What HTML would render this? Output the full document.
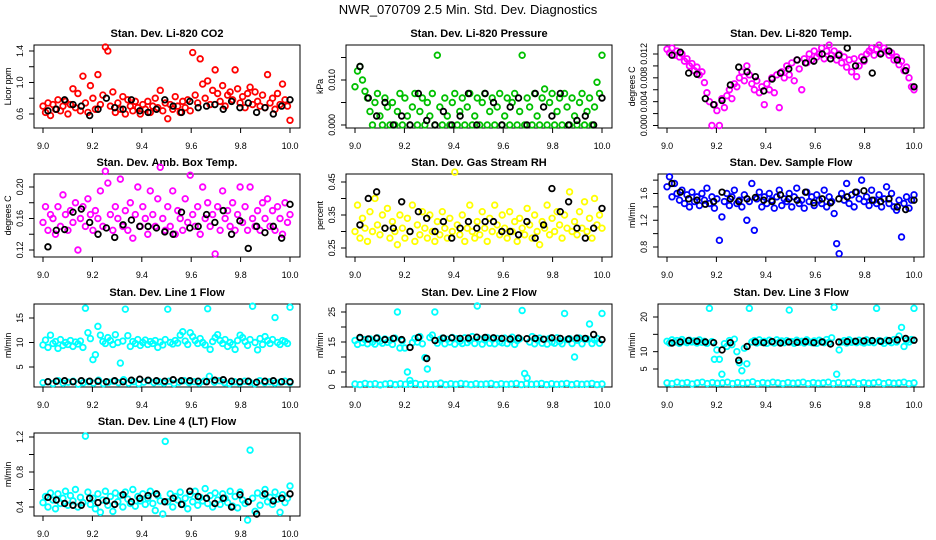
<!DOCTYPE html>
<html><head><meta charset="utf-8"><style>
body{margin:0;background:#fff}
svg{display:block;font-family:"Liberation Sans",Arial,sans-serif}
.t{font-weight:bold;font-size:11px}
.k{font-size:9px;letter-spacing:-0.2px}
</style></head><body>
<svg id="c" width="936" height="540" viewBox="0 0 936 540">
<rect width="936" height="540" fill="#fff"/>
<text x="468" y="14" text-anchor="middle" font-size="13">NWR_070709  2.5 Min. Std. Dev. Diagnostics</text>
</svg>
<script>
const xTicks=[9.0,9.2,9.4,9.6,9.8,10.0];
const xTickLabels=["9.0","9.2","9.4","9.6","9.8","10.0"];
const co2Red=[0.70,0.62,0.74,0.58,0.72,0.66,0.78,0.64,0.70,0.76,0.60,0.72,0.92,0.68,0.86,0.64,1.08,0.74,0.62,0.96,0.80,0.66,1.10,0.72,0.84,1.45,1.40,0.70,0.88,0.62,0.74,0.66,0.82,0.60,0.78,0.70,0.64,0.76,0.68,0.60,0.72,0.66,0.76,0.62,0.70,0.80,0.68,0.90,0.64,0.74,0.54,0.72,0.66,0.82,0.70,0.62,0.76,0.68,0.78,0.64,1.38,0.84,0.74,1.30,0.98,0.80,1.02,0.72,0.90,1.16,0.86,0.76,0.96,0.70,0.84,0.88,0.78,1.16,0.92,0.74,0.82,0.68,0.86,0.94,0.72,0.88,0.76,0.70,0.84,0.68,1.10,0.74,0.80,0.66,0.86,0.72,0.98,0.78,0.70,0.52];
const co2Black=[0.64,0.66,0.78,0.72,0.70,0.58,0.66,0.80,0.68,0.66,0.78,0.64,0.62,0.66,0.78,0.70,0.62,0.76,0.68,0.70,0.72,0.66,0.76,0.68,0.74,0.62,0.68,0.60,0.70,0.78];
const presGreen=[0.0085,0.012,0.013,0.010,0.0075,0.006,0.003,0.000,0.005,0.007,0.002,0.000,0.006,0.004,0.000,0.005,0.000,0.003,0.007,0.000,0.006,0.002,0.000,0.004,0.007,0.000,0.003,0.006,0.000,0.005,0.002,0.007,0.000,0.0155,0.004,0.000,0.006,0.002,0.000,0.005,0.007,0.000,0.003,0.006,0.000,0.004,0.007,0.000,0.002,0.006,0.000,0.005,0.007,0.000,0.003,0.006,0.000,0.004,0.007,0.000,0.002,0.006,0.000,0.005,0.007,0.000,0.003,0.0155,0.000,0.006,0.004,0.000,0.007,0.002,0.000,0.006,0.008,0.000,0.005,0.007,0.000,0.003,0.006,0.000,0.007,0.004,0.000,0.006,0.002,0.000,0.005,0.007,0.000,0.003,0.006,0.000,0.004,0.0095,0.007,0.0155];
const presBlack=[0.013,0.006,0.002,0.005,0.000,0.002,0.000,0.007,0.001,0.000,0.003,0.000,0.002,0.007,0.000,0.007,0.005,0.000,0.004,0.006,0.000,0.007,0.004,0.002,0.007,0.000,0.001,0.002,0.000,0.006];
const tempMag=[0.0128,0.0122,0.0130,0.0118,0.0125,0.0115,0.0120,0.0108,0.0112,0.0100,0.0104,0.0092,0.0098,0.0085,0.0090,0.0072,0.0055,0.0040,0.0000,0.0035,0.0025,0.0000,0.0045,0.0030,0.0050,0.0060,0.0045,0.0070,0.0065,0.0080,0.0090,0.0075,0.0100,0.0085,0.0070,0.0060,0.0075,0.0055,0.0065,0.0035,0.0070,0.0060,0.0080,0.0055,0.0085,0.0030,0.0090,0.0080,0.0100,0.0085,0.0105,0.0075,0.0110,0.0095,0.0060,0.0112,0.0105,0.0120,0.0110,0.0125,0.0115,0.0120,0.0130,0.0112,0.0125,0.0135,0.0118,0.0125,0.0110,0.0120,0.0105,0.0115,0.0098,0.0110,0.0090,0.0112,0.0082,0.0100,0.0115,0.0108,0.0120,0.0125,0.0130,0.0118,0.0128,0.0135,0.0122,0.0130,0.0125,0.0118,0.0122,0.0110,0.0115,0.0102,0.0108,0.0092,0.0098,0.0080,0.0065,0.0060];
const tempBlack=[0.0118,0.0123,0.0088,0.0086,0.0045,0.0035,0.0042,0.0068,0.0098,0.0090,0.0082,0.0058,0.0078,0.0088,0.0095,0.0110,0.0105,0.0108,0.0120,0.0112,0.0118,0.0130,0.0100,0.0110,0.0088,0.0120,0.0125,0.0110,0.0092,0.0065];
const ambMag=[0.155,0.175,0.145,0.165,0.160,0.140,0.175,0.150,0.190,0.165,0.145,0.170,0.155,0.180,0.120,0.160,0.175,0.150,0.185,0.165,0.145,0.170,0.160,0.195,0.150,0.220,0.205,0.165,0.145,0.175,0.160,0.210,0.150,0.170,0.145,0.180,0.135,0.165,0.200,0.150,0.175,0.160,0.140,0.195,0.165,0.150,0.185,0.225,0.160,0.145,0.175,0.150,0.195,0.140,0.170,0.160,0.145,0.185,0.155,0.215,0.165,0.150,0.175,0.140,0.200,0.160,0.180,0.150,0.165,0.115,0.175,0.145,0.195,0.160,0.170,0.150,0.180,0.145,0.165,0.200,0.155,0.175,0.145,0.200,0.160,0.150,0.170,0.145,0.180,0.160,0.185,0.150,0.170,0.145,0.175,0.160,0.140,0.180,0.155,0.165];
const ambBlack=[0.124,0.145,0.146,0.168,0.172,0.155,0.140,0.148,0.136,0.152,0.158,0.150,0.150,0.148,0.143,0.140,0.168,0.148,0.150,0.165,0.155,0.170,0.140,0.157,0.122,0.150,0.142,0.150,0.135,0.178];
const rhYellow=[0.30,0.38,0.28,0.34,0.31,0.27,0.36,0.30,0.40,0.32,0.29,0.35,0.31,0.37,0.28,0.33,0.30,0.26,0.35,0.31,0.28,0.34,0.30,0.38,0.27,0.32,0.29,0.36,0.31,0.28,0.35,0.30,0.27,0.33,0.29,0.36,0.31,0.28,0.34,0.30,0.48,0.32,0.29,0.35,0.27,0.31,0.38,0.30,0.28,0.33,0.29,0.36,0.31,0.27,0.34,0.30,0.38,0.32,0.29,0.35,0.31,0.28,0.36,0.30,0.33,0.27,0.34,0.31,0.29,0.37,0.32,0.28,0.35,0.30,0.26,0.33,0.31,0.38,0.29,0.34,0.30,0.36,0.32,0.28,0.35,0.31,0.42,0.30,0.33,0.29,0.36,0.31,0.39,0.30,0.34,0.28,0.40,0.32,0.35,0.31];
const rhBlack=[0.32,0.40,0.42,0.31,0.31,0.39,0.30,0.36,0.34,0.30,0.33,0.28,0.31,0.33,0.31,0.33,0.33,0.30,0.30,0.29,0.33,0.28,0.32,0.43,0.36,0.39,0.31,0.28,0.31,0.37];
const flowBlue=[1.70,1.85,1.55,1.75,1.60,1.50,1.65,1.45,1.58,1.40,1.62,1.48,1.55,1.42,1.60,1.50,1.68,1.45,1.55,1.38,1.52,0.90,1.25,1.48,1.60,1.42,1.55,1.65,1.45,1.50,1.40,1.58,1.20,1.48,1.75,1.05,1.52,1.62,1.40,1.55,1.45,1.60,1.50,1.38,1.55,1.65,1.42,1.52,1.48,1.60,1.40,1.55,1.68,1.45,1.50,1.38,1.62,1.48,1.55,1.42,1.58,1.50,1.45,1.65,1.40,1.55,1.48,1.30,0.85,0.70,1.60,1.50,1.75,1.45,1.58,1.40,1.62,1.52,1.80,1.48,1.55,1.42,1.65,1.50,1.45,1.58,1.40,1.52,1.70,1.45,1.60,1.40,1.35,1.50,0.95,1.45,1.55,1.38,1.50,1.58];
const flowBlack=[1.75,1.62,1.52,1.50,1.44,1.48,1.62,1.52,1.48,1.52,1.54,1.50,1.48,1.58,1.52,1.50,1.62,1.46,1.52,1.46,1.52,1.55,1.62,1.64,1.50,1.48,1.52,1.40,1.36,1.50];
const l1Upper=[9.5,10.5,9.0,11.5,9.8,10.2,8.8,10.6,9.4,10.0,9.6,10.4,9.2,10.1,9.7,10.3,9.0,17.0,12.0,10.8,6.5,7.5,13.3,11.5,10.2,9.8,11.0,10.4,9.6,11.6,10.0,5.8,10.3,16.8,11.4,9.2,10.2,9.8,10.6,9.4,10.0,10.5,9.6,10.2,9.8,10.4,9.0,10.1,9.5,10.6,16.8,10.0,9.7,10.4,9.9,11.5,12.2,10.3,9.6,12.0,11.2,10.4,9.8,10.8,10.0,9.5,16.9,8.6,10.2,11.0,11.6,10.4,9.8,10.6,9.2,10.0,9.6,8.6,10.4,11.5,11.0,10.2,9.4,10.6,17.4,10.0,8.5,10.8,9.6,11.2,10.4,9.8,10.6,15.1,10.0,9.6,10.4,10.2,9.8,17.2];
const l1Lower=[1.8,2.0,1.6,2.2,1.7,1.9,2.1,1.5,1.8,2.0,1.7,2.3,1.6,1.9,2.1,1.8,2.4,1.7,2.0,1.6,1.9,2.2,1.8,2.0,1.7,2.1,1.6,1.9,2.2,1.8,2.0,1.7,2.1,3.1,1.9,2.2,1.8,1.6,2.0,1.7,2.1,1.9,1.6,2.2,1.8,2.0,1.7,1.9,2.1,1.8];
const l1Black=[2.0,2.1,2.2,2.0,2.2,2.1,2.1,2.0,2.2,2.0,2.3,2.5,2.3,2.2,2.1,2.4,2.2,2.2,2.1,2.0,2.3,2.4,2.1,2.0,2.1,1.9,2.1,2.2,2.0,2.0];
const l2Upper=[15.5,14.2,16.2,14.8,15.8,14.4,16.0,15.0,14.3,16.4,15.2,14.6,16.0,14.9,15.6,14.2,16.3,25.0,13.0,15.4,13.0,5.0,2.2,14.8,16.2,15.0,16.8,14.4,9.8,6.0,16.5,17.3,25.0,14.6,15.8,16.3,14.4,15.9,15.0,16.5,14.3,16.1,15.2,14.5,16.4,14.8,15.6,16.8,14.5,27.0,16.0,14.3,15.7,16.5,14.6,15.9,14.4,16.2,15.1,14.7,16.3,14.5,15.8,16.6,14.2,15.5,16.1,25.5,4.5,3.0,15.0,16.8,14.4,15.7,16.3,14.6,15.9,14.3,16.2,15.0,14.6,16.4,15.2,14.4,24.5,15.8,16.1,14.5,10.0,15.6,16.3,14.4,15.9,16.0,21.0,14.5,15.7,16.2,14.6,24.5];
const l2Lower=[1.0,0.8,1.2,0.9,1.1,0.7,1.0,1.2,0.8,1.1,0.9,1.0,1.2,0.8,1.1,0.9,1.0,1.3,0.8,1.1,0.9,1.2,1.0,0.8,1.1,0.9,1.0,1.2,0.8,1.1,0.9,1.0,1.2,0.8,1.1,0.9,1.0,1.2,0.8,1.1,0.9,1.0,1.2,0.8,1.1,0.9,1.0,1.2,0.8,1.0];
const l2Black=[16.5,16.0,16.3,15.8,16.2,15.8,13.2,16.5,9.5,15.5,16.3,16.4,16.2,16.3,16.6,16.5,16.4,16.2,16.0,16.3,16.1,16.2,15.9,16.4,16.2,16.0,16.3,16.2,17.5,15.8];
const l3Upper=[13.0,12.5,13.4,12.8,13.2,12.4,13.5,12.9,12.6,13.3,12.8,13.1,12.5,13.4,12.7,13.0,12.4,22.5,12.9,7.8,10.5,7.8,3.5,12.3,11.5,13.2,12.0,13.6,10.0,6.8,4.5,11.0,6.5,22.5,12.8,13.2,12.5,13.4,12.7,13.0,12.4,13.3,12.8,12.5,13.4,12.7,13.1,12.6,13.2,22.0,12.9,12.4,13.3,12.7,13.0,12.5,13.4,12.8,12.6,13.1,12.4,13.3,12.9,12.6,13.5,12.7,14.0,22.8,3.5,10.5,12.8,13.2,12.5,13.4,12.7,13.0,12.6,13.3,12.8,12.5,13.4,12.7,13.1,12.6,22.5,13.2,12.9,12.4,13.3,13.0,12.6,13.5,12.8,14.5,17.0,11.5,13.2,12.8,13.5,22.5];
const l3Lower=[1.0,0.8,1.2,0.9,1.1,0.7,1.0,1.2,0.8,1.1,0.9,1.0,1.2,0.8,1.1,0.9,1.0,1.3,0.8,1.1,0.9,1.2,1.0,0.8,1.1,0.9,1.0,1.2,0.8,1.1,0.9,1.0,1.2,0.8,1.1,0.9,1.0,1.2,0.8,1.1,0.9,1.0,1.2,0.8,1.1,0.9,1.0,1.2,0.8,1.0];
const l3Black=[12.5,12.8,13.2,13.0,12.8,12.6,10.5,12.6,7.5,11.5,12.8,12.6,12.9,12.5,12.8,12.7,12.9,12.6,12.8,12.2,12.8,12.9,13.0,13.1,13.2,13.0,13.2,13.4,13.8,13.3];
const l4Cyan=[0.45,0.52,0.40,0.56,0.48,0.38,0.55,0.44,0.50,0.58,0.42,0.53,0.47,0.60,0.40,0.51,0.45,1.21,0.57,0.43,0.50,0.38,0.55,0.34,0.48,0.58,0.42,0.52,0.35,0.56,0.46,0.53,0.40,0.57,0.49,0.44,0.60,0.41,0.52,0.47,0.55,0.43,0.50,0.58,0.44,0.36,0.53,0.47,0.32,1.15,0.46,0.55,0.40,0.52,0.48,0.57,0.43,0.50,0.38,0.54,0.46,0.58,0.42,0.51,0.47,0.61,0.44,0.53,0.40,0.56,0.48,0.43,0.55,0.50,0.45,0.58,0.41,0.52,0.39,0.57,0.48,0.44,0.25,1.05,0.50,0.35,0.56,0.42,0.53,0.60,0.46,0.51,0.43,0.57,0.49,0.34,0.54,0.45,0.50,0.64];
const l4Black=[0.51,0.48,0.44,0.42,0.42,0.50,0.45,0.47,0.43,0.54,0.46,0.50,0.53,0.55,0.46,0.50,0.43,0.58,0.52,0.50,0.44,0.50,0.40,0.54,0.46,0.32,0.55,0.47,0.50,0.55];

const svg=document.getElementById('c');
const NS='http://www.w3.org/2000/svg';
function mk(tag,attrs,parent){const e=document.createElementNS(NS,tag);for(const k in attrs)e.setAttribute(k,attrs[k]);(parent||svg).appendChild(e);return e;}
const colLeft=[34,346,658], rowTop=[45,174,304,433], W=266, H=83;
const panels=[
 {c:0,r:0,name:'co2',title:'Stan. Dev. Li-820 CO2',ylab:'Licor ppm',dom:[0.422,1.476],ticks:[0.6,0.8,1.0,1.2,1.4],labels:{0.6:'0.6',1.0:'1.0',1.4:'1.4'},series:[[co2Red,'#ff0000'],[co2Black,'#000']]},
 {c:1,r:0,name:'pressure',title:'Stan. Dev. Li-820 Pressure',ylab:'kPa',dom:[-0.00067,0.01778],ticks:[0,0.005,0.010,0.015],labels:{0:'0.000',0.01:'0.010'},series:[[presGreen,'#00c000'],[presBlack,'#000']]},
 {c:2,r:0,name:'temp',title:'Stan. Dev. Li-820 Temp.',ylab:'degrees C',dom:[-0.00042,0.01351],ticks:[0,0.002,0.004,0.006,0.008,0.010,0.012],labels:{0:'0.000',0.004:'0.004',0.008:'0.008',0.012:'0.012'},series:[[tempMag,'#ff00ff'],[tempBlack,'#000']]},
 {c:0,r:1,name:'amb-temp',title:'Stan. Dev. Amb. Box Temp.',ylab:'degrees C',dom:[0.1111,0.2165],ticks:[0.12,0.14,0.16,0.18,0.20],labels:{0.12:'0.12',0.16:'0.16',0.2:'0.20'},series:[[ambMag,'#ff00ff'],[ambBlack,'#000']]},
 {c:1,r:1,name:'rh',title:'Stan. Dev. Gas Stream RH',ylab:'percent',dom:[0.2227,0.4742],ticks:[0.25,0.30,0.35,0.40,0.45],labels:{0.25:'0.25',0.35:'0.35',0.45:'0.45'},series:[[rhYellow,'#ffff00'],[rhBlack,'#000']]},
 {c:2,r:1,name:'sample-flow',title:'Stan. Dev. Sample Flow',ylab:'ml/min',dom:[0.6505,1.8915],ticks:[0.8,1.0,1.2,1.4,1.6,1.8],labels:{0.8:'0.8',1.2:'1.2',1.6:'1.6'},series:[[flowBlue,'#0000ff'],[flowBlack,'#000']]},
 {c:0,r:2,name:'line1',title:'Stan. Dev. Line 1 Flow',ylab:'ml/min',dom:[0.918,17.86],ticks:[5,10,15],labels:{5:'5',10:'10',15:'15'},series:[[l1Upper,'#00ffff'],[l1Lower,'#00ffff'],[l1Black,'#000']]},
 {c:1,r:2,name:'line2',title:'Stan. Dev. Line 2 Flow',ylab:'ml/min',dom:[0,27.67],ticks:[0,5,10,15,20,25],labels:{0:'0',5:'5',15:'15',25:'25'},series:[[l2Upper,'#00ffff'],[l2Lower,'#00ffff'],[l2Black,'#000']]},
 {c:2,r:2,name:'line3',title:'Stan. Dev. Line 3 Flow',ylab:'ml/min',dom:[-0.19,23.75],ticks:[5,10,15,20],labels:{5:'5',10:'10',20:'20'},series:[[l3Upper,'#00ffff'],[l3Lower,'#00ffff'],[l3Black,'#000']]},
 {c:0,r:3,name:'line4',title:'Stan. Dev. Line 4 (LT) Flow',ylab:'ml/min',dom:[0.297,1.2457],ticks:[0.4,0.6,0.8,1.0,1.2],labels:{0.4:'0.4',0.8:'0.8',1.2:'1.2'},series:[[l4Cyan,'#00ffff'],[l4Black,'#000']]}
];
panels.forEach(p=>{
 const L=colLeft[p.c],T=rowTop[p.r],B=T+H;
 const g=mk('g',{});
 
 
 const xs=v=>L+9+(v-9)*247;
 const ys=v=>B-(v-p.dom[0])/(p.dom[1]-p.dom[0])*H;
 const tt=mk('text',{x:L+W/2,y:T-8,'text-anchor':'middle',class:'t'},g);tt.textContent=p.title;
 
 
 const box=mk('rect',{x:L,y:T,width:W,height:H,fill:'none',stroke:'#000','stroke-width':1},g);
 
 
 mk('line',{x1:xs(9),x2:xs(10),y1:B,y2:B,stroke:'#000'},g);
 xTicks.forEach((v,i)=>{
  mk('line',{x1:xs(v),x2:xs(v),y1:B,y2:B+5,stroke:'#000'},g);
  const t=mk('text',{x:xs(v),y:B+21,'text-anchor':'middle',class:'k'},g);t.textContent=xTickLabels[i];
  
  
 });
 const tk=p.ticks;
 mk('line',{x1:L,x2:L,y1:ys(tk[0]),y2:ys(tk[tk.length-1]),stroke:'#000'},g);
 tk.forEach(v=>{
  mk('line',{x1:L-5,x2:L,y1:ys(v),y2:ys(v),stroke:'#000'},g);
  const key=Object.keys(p.labels).find(k=>Math.abs(parseFloat(k)-v)<1e-9);
  if(key!==undefined){
   const t=mk('text',{x:0,y:0,'text-anchor':'middle',class:'k',transform:`translate(${L-11},${ys(v)}) rotate(-90)`},g);
   t.textContent=p.labels[key];
   
   
  }
 });
 const yl=mk('text',{x:0,y:0,'text-anchor':'middle',class:'k',transform:`translate(${L-23},${T+H/2}) rotate(-90)`},g);
 yl.textContent=p.ylab;
 
 
 p.series.forEach(([arr,col])=>{
  const black=col==='#000';
  const n=arr.length;
  arr.forEach((v,i)=>{
   const x=black?9.02+i*(0.98/(n-1)):9+i/(n-1);
   const cc=mk('circle',{cx:xs(x),cy:ys(v),r:2.8,fill:'none',stroke:col,'stroke-width':1.8},g);
   
   
  });
 });
});
</script>
</body></html>
